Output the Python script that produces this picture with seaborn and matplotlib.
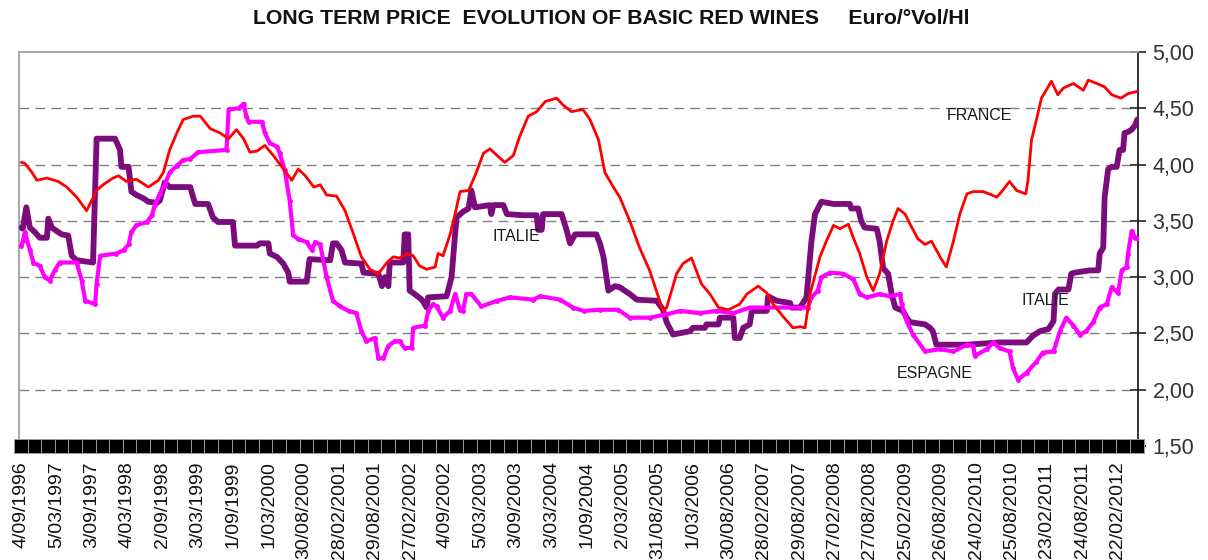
import numpy as np
import pandas as pd
import matplotlib
matplotlib.use("Agg")
import matplotlib.pyplot as plt
import seaborn as sns
from matplotlib.ticker import FuncFormatter, FixedLocator

# ---------------- data (decimal years, Euro/°Vol/Hl) ----------------
france_t = [1996.68, 1996.73, 1996.83, 1996.90, 1997.04, 1997.20, 1997.32, 1997.46, 1997.60, 1997.74,
            1997.83, 1997.97, 1998.05, 1998.16, 1998.30, 1998.47, 1998.61, 1998.68, 1998.77, 1998.87,
            1998.96, 1999.10, 1999.20, 1999.34, 1999.48, 1999.60, 1999.71, 1999.81, 1999.90, 2000.00,
            2000.11, 2000.23, 2000.35, 2000.49, 2000.58, 2000.68, 2000.80, 2000.89, 2000.98, 2001.12,
            2001.24, 2001.36, 2001.47, 2001.59, 2001.71, 2001.83, 2001.92, 2002.01, 2002.11, 2002.20,
            2002.29, 2002.39, 2002.51, 2002.55, 2002.62, 2002.72, 2002.79, 2002.86, 2002.98, 2003.07,
            2003.19, 2003.28, 2003.40, 2003.49, 2003.61, 2003.70, 2003.82, 2003.94, 2004.06, 2004.22,
            2004.31, 2004.43, 2004.59, 2004.69, 2004.81, 2004.90, 2005.02, 2005.11, 2005.25, 2005.39,
            2005.53, 2005.72, 2005.77, 2005.91, 2006.00, 2006.12, 2006.26, 2006.38, 2006.50, 2006.64,
            2006.80, 2006.90, 2007.06, 2007.18, 2007.27, 2007.41, 2007.55, 2007.65, 2007.72, 2007.79,
            2007.93, 2008.02, 2008.12, 2008.21, 2008.33, 2008.40, 2008.49, 2008.59, 2008.68, 2008.77,
            2008.87, 2008.96, 2009.03, 2009.13, 2009.20, 2009.31, 2009.41, 2009.50, 2009.57, 2009.64,
            2009.71, 2009.81, 2009.90, 2010.00, 2010.09, 2010.23, 2010.35, 2010.42, 2010.49, 2010.60,
            2010.70, 2010.83, 2010.86, 2010.91, 2010.98, 2011.05, 2011.19, 2011.28, 2011.36, 2011.50,
            2011.64, 2011.71, 2011.83, 2011.94, 2012.04, 2012.17, 2012.27, 2012.40]
france_v = [4.02, 4.01, 3.93, 3.86, 3.88, 3.85, 3.80, 3.71, 3.59, 3.77,
            3.82, 3.88, 3.90, 3.85, 3.87, 3.80, 3.86, 3.93, 4.13, 4.28,
            4.40, 4.43, 4.43, 4.32, 4.28, 4.23, 4.31, 4.23, 4.11, 4.12,
            4.17, 4.08, 3.98, 3.86, 3.96, 3.90, 3.80, 3.82, 3.73, 3.72,
            3.59, 3.38, 3.18, 3.07, 3.03, 3.13, 3.18, 3.17, 3.21, 3.19,
            3.10, 3.07, 3.09, 3.21, 3.19, 3.38, 3.56, 3.76, 3.77, 3.90,
            4.10, 4.14, 4.07, 4.02, 4.08, 4.25, 4.43, 4.47, 4.56, 4.59,
            4.53, 4.47, 4.49, 4.40, 4.22, 3.93, 3.80, 3.71, 3.50, 3.26,
            3.06, 2.70, 2.73, 3.03, 3.12, 3.17, 2.94, 2.85, 2.73, 2.71,
            2.76, 2.85, 2.92, 2.86, 2.76, 2.65, 2.55, 2.56, 2.55, 2.85,
            3.18, 3.32, 3.46, 3.43, 3.47, 3.35, 3.21, 3.00, 2.88, 3.03,
            3.32, 3.50, 3.61, 3.56, 3.47, 3.34, 3.29, 3.32, 3.24, 3.16,
            3.09, 3.32, 3.56, 3.74, 3.76, 3.76, 3.73, 3.71, 3.76, 3.85,
            3.77, 3.74, 3.86, 4.22, 4.40, 4.59, 4.74, 4.62, 4.68, 4.72,
            4.66, 4.75, 4.72, 4.69, 4.62, 4.59, 4.63, 4.65]

italie_t = [1996.68, 1996.70, 1996.75, 1996.80, 1996.87, 1996.94, 1997.04, 1997.06, 1997.11, 1997.20,
            1997.25, 1997.34, 1997.39, 1997.46, 1997.69, 1997.74, 1998.00, 1998.07, 1998.09, 1998.19,
            1998.23, 1998.30, 1998.40, 1998.47, 1998.59, 1998.63, 1998.70, 1998.77, 1999.06, 1999.10,
            1999.13, 1999.31, 1999.38, 1999.45, 1999.66, 1999.69, 2000.00, 2000.04, 2000.16, 2000.18,
            2000.28, 2000.37, 2000.44, 2000.46, 2000.70, 2000.74, 2001.03, 2001.07, 2001.12, 2001.19,
            2001.24, 2001.47, 2001.50, 2001.71, 2001.76, 2001.80, 2001.85, 2001.87, 2002.06, 2002.08,
            2002.13, 2002.15, 2002.22, 2002.32, 2002.39, 2002.41, 2002.67, 2002.74, 2002.81, 2002.90,
            2002.98, 2003.02, 2003.07, 2003.28, 2003.30, 2003.33, 2003.47, 2003.52, 2003.75, 2003.94,
            2003.96, 2004.01, 2004.03, 2004.29, 2004.36, 2004.41, 2004.48, 2004.78, 2004.83, 2004.88,
            2004.95, 2005.04, 2005.11, 2005.25, 2005.35, 2005.63, 2005.72, 2005.77, 2005.86, 2006.10,
            2006.14, 2006.31, 2006.33, 2006.50, 2006.52, 2006.71, 2006.73, 2006.80, 2006.85, 2006.94,
            2006.97, 2007.18, 2007.20, 2007.32, 2007.51, 2007.53, 2007.65, 2007.74, 2007.81, 2007.86,
            2007.95, 2008.12, 2008.35, 2008.37, 2008.47, 2008.51, 2008.56, 2008.73, 2008.77, 2008.82,
            2008.89, 2008.94, 2008.99, 2009.10, 2009.15, 2009.20, 2009.41, 2009.48, 2009.52, 2009.57,
            2010.00, 2010.46, 2010.84, 2010.93, 2011.03, 2011.15, 2011.22, 2011.24, 2011.29, 2011.43,
            2011.47, 2011.52, 2011.73, 2011.85, 2011.87, 2011.92, 2011.94, 2011.99, 2012.04, 2012.11,
            2012.15, 2012.20, 2012.22, 2012.27, 2012.32, 2012.37, 2012.40]
italie_v = [3.44, 3.43, 3.62, 3.44, 3.40, 3.35, 3.35, 3.52, 3.44, 3.40,
            3.38, 3.37, 3.19, 3.15, 3.13, 4.23, 4.23, 4.13, 3.98, 3.98,
            3.76, 3.73, 3.70, 3.67, 3.66, 3.68, 3.84, 3.80, 3.80, 3.71,
            3.65, 3.65, 3.53, 3.49, 3.49, 3.28, 3.28, 3.30, 3.30, 3.21,
            3.18, 3.12, 3.04, 2.96, 2.96, 3.16, 3.15, 3.30, 3.30, 3.24,
            3.13, 3.12, 3.04, 3.03, 2.92, 3.00, 2.92, 3.13, 3.13, 3.38,
            3.38, 2.88, 2.85, 2.80, 2.73, 2.82, 2.83, 3.00, 3.53, 3.58,
            3.61, 3.77, 3.62, 3.64, 3.56, 3.64, 3.64, 3.56, 3.55, 3.55,
            3.42, 3.42, 3.56, 3.56, 3.42, 3.30, 3.38, 3.38, 3.30, 3.18,
            2.88, 2.92, 2.91, 2.85, 2.80, 2.79, 2.71, 2.60, 2.49, 2.52,
            2.55, 2.55, 2.58, 2.58, 2.64, 2.64, 2.46, 2.46, 2.55, 2.58,
            2.70, 2.70, 2.83, 2.79, 2.77, 2.73, 2.73, 2.82, 3.32, 3.56,
            3.67, 3.65, 3.65, 3.61, 3.61, 3.50, 3.44, 3.43, 3.32, 3.08,
            3.03, 2.85, 2.73, 2.70, 2.64, 2.60, 2.58, 2.55, 2.52, 2.40,
            2.40, 2.42, 2.42, 2.48, 2.52, 2.54, 2.61, 2.85, 2.89, 2.89,
            3.03, 3.04, 3.06, 3.06, 3.21, 3.26, 3.71, 3.96, 3.98, 3.98,
            4.13, 4.13, 4.28, 4.29, 4.31, 4.35, 4.40]

espagne_t = [1996.68, 1996.70, 1996.73, 1996.80, 1996.85, 1996.94, 1997.01, 1997.08, 1997.15, 1997.22,
             1997.46, 1997.53, 1997.58, 1997.72, 1997.74, 1997.79, 1998.02, 1998.12, 1998.19, 1998.23,
             1998.30, 1998.45, 1998.52, 1998.56, 1998.63, 1998.70, 1998.77, 1998.87, 1998.96, 1999.06,
             1999.17, 1999.57, 1999.60, 1999.74, 1999.81, 1999.85, 1999.88, 2000.07, 2000.11, 2000.18,
             2000.28, 2000.32, 2000.39, 2000.46, 2000.51, 2000.58, 2000.70, 2000.77, 2000.82, 2000.89,
             2000.98, 2001.07, 2001.17, 2001.29, 2001.40, 2001.47, 2001.54, 2001.66, 2001.71, 2001.78,
             2001.85, 2001.94, 2002.01, 2002.08, 2002.18, 2002.20, 2002.37, 2002.41, 2002.48, 2002.53,
             2002.62, 2002.72, 2002.79, 2002.86, 2002.90, 2002.95, 2003.02, 2003.16, 2003.38, 2003.56,
             2003.89, 2003.99, 2004.27, 2004.45, 2004.60, 2004.83, 2005.09, 2005.25, 2005.53, 2005.77,
             2005.96, 2006.24, 2006.47, 2006.71, 2006.94, 2007.65, 2007.76, 2007.81, 2007.90, 2007.95,
             2008.07, 2008.26, 2008.40, 2008.49, 2008.59, 2008.77, 2008.91, 2009.06, 2009.08, 2009.15,
             2009.24, 2009.41, 2009.62, 2009.81, 2010.00, 2010.09, 2010.11, 2010.28, 2010.37, 2010.46,
             2010.60, 2010.65, 2010.72, 2010.84, 2010.98, 2011.07, 2011.22, 2011.31, 2011.40, 2011.50,
             2011.59, 2011.68, 2011.78, 2011.87, 2011.97, 2012.04, 2012.13, 2012.18, 2012.25, 2012.27,
             2012.32, 2012.37, 2012.40]
espagne_v = [3.28, 3.32, 3.40, 3.24, 3.13, 3.10, 3.00, 2.97, 3.06, 3.13,
             3.13, 2.97, 2.79, 2.76, 2.94, 3.19, 3.21, 3.24, 3.29, 3.40,
             3.46, 3.49, 3.55, 3.64, 3.74, 3.82, 3.93, 3.99, 4.04, 4.05,
             4.11, 4.13, 4.49, 4.50, 4.54, 4.43, 4.38, 4.38, 4.28, 4.19,
             4.16, 4.10, 3.95, 3.68, 3.37, 3.34, 3.31, 3.24, 3.31, 3.29,
             3.00, 2.79, 2.74, 2.70, 2.68, 2.52, 2.43, 2.46, 2.28, 2.28,
             2.39, 2.43, 2.43, 2.37, 2.37, 2.55, 2.57, 2.70, 2.76, 2.74,
             2.64, 2.70, 2.85, 2.71, 2.70, 2.85, 2.85, 2.74, 2.79, 2.82,
             2.80, 2.83, 2.80, 2.73, 2.70, 2.71, 2.71, 2.64, 2.64, 2.67,
             2.70, 2.68, 2.70, 2.68, 2.73, 2.73, 2.73, 2.82, 2.88, 3.00,
             3.04, 3.03, 2.98, 2.85, 2.82, 2.85, 2.83, 2.85, 2.76, 2.61,
             2.49, 2.34, 2.36, 2.34, 2.40, 2.39, 2.30, 2.36, 2.42, 2.37,
             2.34, 2.19, 2.09, 2.15, 2.25, 2.33, 2.34, 2.52, 2.64, 2.57,
             2.49, 2.52, 2.60, 2.73, 2.76, 2.91, 2.86, 3.06, 3.09, 3.21,
             3.41, 3.35, 3.35]

tick_labels = ["4/09/1996", "5/03/1997", "3/09/1997", "4/03/1998", "2/09/1998", "3/03/1999",
               "1/09/1999", "1/03/2000", "30/08/2000", "28/02/2001", "29/08/2001", "27/02/2002",
               "4/09/2002", "5/03/2003", "3/09/2003", "3/03/2004", "1/09/2004", "2/03/2005",
               "31/08/2005", "1/03/2006", "30/08/2006", "28/02/2007", "29/08/2007", "27/02/2008",
               "27/08/2008", "25/02/2009", "26/08/2009", "24/02/2010", "25/08/2010", "23/02/2011",
               "24/08/2011", "22/02/2012"]

series_names = ["FRANCE", "ITALIE", "ESPAGNE"]
y_ticks = [1.5, 2.0, 2.5, 3.0, 3.5, 4.0, 4.5, 5.0]
base_level = 1.5
start_year = 1996.675
weeks_per_year = 52.18
label_step_weeks = 26
strip_step_weeks = 10
n_weeks = 821

title = "LONG TERM PRICE  EVOLUTION OF BASIC RED WINES     Euro/°Vol/Hl"

# ---------------- style ----------------
sns.set_style("white")
plt.rcParams["font.family"] = ["Liberation Sans", "DejaVu Sans"]

fig = plt.figure(figsize=(12.08, 5.60), dpi=100)
ax = fig.add_axes([19 / 1208, 1 - 446 / 560, 1119 / 1208, 394 / 560])

df_fr = pd.DataFrame({"t": france_t, "v": france_v})
df_it = pd.DataFrame({"t": italie_t, "v": italie_v})
df_es = pd.DataFrame({"t": espagne_t, "v": espagne_v})

# grid
for yv in y_ticks[1:-1]:
    ax.axhline(yv, color="#808080", lw=1.0, ls=(0, (7, 4.5)), zorder=0)

sns.lineplot(data=df_it, x="t", y="v", ax=ax, color="#7B0C7B", lw=4.2,
             estimator=None, sort=False, zorder=3)
sns.lineplot(data=df_es, x="t", y="v", ax=ax, color="#FF00FF", lw=3.0,
             estimator=None, sort=False, marker="o", markersize=3.5,
             markeredgewidth=0, zorder=4)
sns.lineplot(data=df_fr, x="t", y="v", ax=ax, color="#FF0000", lw=2.0,
             estimator=None, sort=False, zorder=5)

# strip of black squares on the base level
strip_t = start_year + np.arange(0, n_weeks + 1, strip_step_weeks) / weeks_per_year
ax.plot(strip_t, np.full(len(strip_t), base_level), ls="none", marker="s",
        markersize=9.6, markerfacecolor="black", markeredgecolor="#9a9a9a",
        markeredgewidth=0.7, clip_on=False, zorder=6)

# axes
ax.set_xlim(1996.647, 2012.41)
ax.set_ylim(1.5, 5.0)
ax.set_xlabel("")
ax.set_ylabel("")

tick_pos = start_year + np.arange(len(tick_labels)) * label_step_weeks / weeks_per_year
ax.xaxis.set_major_locator(FixedLocator(tick_pos))
ax.set_xticklabels(tick_labels, rotation=90, fontsize=14, color="#111111")
ax.tick_params(axis="x", length=0, pad=11)

ax.yaxis.tick_right()
ax.yaxis.set_major_locator(FixedLocator(y_ticks))
ax.yaxis.set_major_formatter(FuncFormatter(lambda v, p: f"{v:.2f}".replace(".", ",")))
ax.tick_params(axis="y", direction="inout", length=11, width=1.2, color="#222222",
               labelsize=15.5, labelcolor="#333333", pad=5)

for s in ["left", "top"]:
    ax.spines[s].set_color("#a0a0a0")
    ax.spines[s].set_linewidth(1.3)
ax.spines["bottom"].set_visible(False)
ax.spines["right"].set_color("#222222")
ax.spines["right"].set_linewidth(1.3)
ax.spines["right"].set_visible(True)

# series labels
label_pos = {"FRANCE": (2010.18, 4.44), "ITALIE": (2003.65, 3.36), "ESPAGNE": (2009.55, 2.14)}
for name in series_names:
    x, y = label_pos[name]
    ax.text(x, y, name, fontsize=11.5, color="#1a1a1a", ha="center", va="center", zorder=7)
ax.text(2011.11, 2.79, "ITALIE", fontsize=11.5, color="#1a1a1a", ha="center", va="center", zorder=7)

fig.text(611 / 1208, 1 - 18 / 560, title, fontsize=15.3, fontweight="bold",
         ha="center", va="center", color="#111111")

fig.savefig("out.png", dpi=100)
